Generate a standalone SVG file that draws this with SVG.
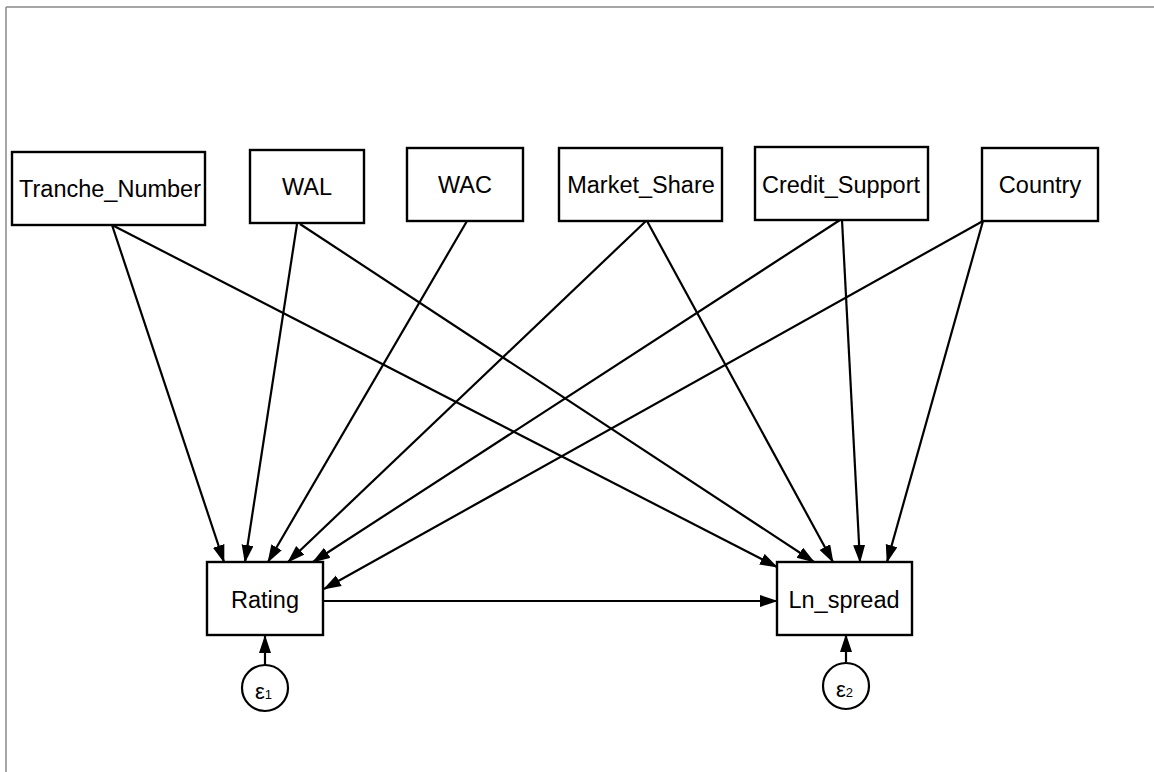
<svg xmlns="http://www.w3.org/2000/svg" width="1154" height="772" viewBox="0 0 1154 772">
<style>
.node rect{fill:#fff;stroke:#000;stroke-width:2.4}
.node circle{fill:#fff;stroke:#000;stroke-width:2.2}
.lbl{font-family:"Liberation Sans",Arial,sans-serif;font-size:23.5px;text-anchor:middle;fill:#000}
.eps{font-family:"Liberation Sans",Arial,sans-serif;font-size:22px;fill:#000}
.sub{font-size:13px}
#connectors line{stroke:#000;stroke-width:2.2;marker-end:url(#ah)}
</style>
<defs>
<marker id="ah" markerUnits="userSpaceOnUse" markerWidth="19" markerHeight="13" refX="17" refY="6" orient="auto">
<path d="M0,0 L18,6 L0,12 z" fill="#000"/>
</marker>
</defs>
<rect width="1154" height="772" fill="#fff"/>
<g id="frame" stroke="#888" stroke-width="1.5" fill="none">
<line x1="6" y1="7" x2="1154" y2="7"/>
<line x1="6" y1="7" x2="6" y2="772"/>
</g>
<g id="connectors">
<line x1="112" y1="225" x2="224" y2="562"/>
<line x1="112" y1="225" x2="777" y2="567"/>
<line x1="297" y1="224" x2="245" y2="562"/>
<line x1="300" y1="224" x2="814" y2="562"/>
<line x1="467" y1="221" x2="268" y2="562"/>
<line x1="646" y1="221" x2="288" y2="562"/>
<line x1="647" y1="221" x2="833" y2="562"/>
<line x1="840" y1="220" x2="313" y2="562"/>
<line x1="842" y1="220" x2="860" y2="562"/>
<line x1="983" y1="221" x2="324" y2="589"/>
<line x1="983" y1="221" x2="887" y2="562"/>
<line x1="323" y1="601" x2="777" y2="601"/>
<line x1="265" y1="665" x2="265" y2="636"/>
<line x1="846" y1="662" x2="846" y2="635"/>
</g>
<g id="tranche_number" class="node"><rect x="12" y="152" width="193" height="73"/><text class="lbl" x="110" y="197">Tranche_Number</text></g>
<g id="wal" class="node"><rect x="250" y="150" width="114" height="73"/><text class="lbl" x="307" y="195">WAL</text></g>
<g id="wac" class="node"><rect x="407" y="148" width="116" height="73"/><text class="lbl" x="465" y="193">WAC</text></g>
<g id="market_share" class="node"><rect x="559" y="148" width="163" height="73"/><text class="lbl" x="641" y="193">Market_Share</text></g>
<g id="credit_support" class="node"><rect x="755" y="147" width="173" height="73"/><text class="lbl" x="841" y="193">Credit_Support</text></g>
<g id="country" class="node"><rect x="982" y="148" width="116" height="73"/><text class="lbl" x="1040" y="193">Country</text></g>
<g id="rating" class="node"><rect x="207" y="562" width="116" height="73"/><text class="lbl" x="265" y="608">Rating</text></g>
<g id="ln_spread" class="node"><rect x="777" y="562" width="135" height="73"/><text class="lbl" x="844" y="608">Ln_spread</text></g>
<g id="e1" class="node"><circle cx="265" cy="688" r="23"/><text class="eps" x="255" y="699">ε<tspan class="sub">1</tspan></text></g>
<g id="e2" class="node"><circle cx="846" cy="686" r="23"/><text class="eps" x="836" y="697">ε<tspan class="sub">2</tspan></text></g>
</svg>
